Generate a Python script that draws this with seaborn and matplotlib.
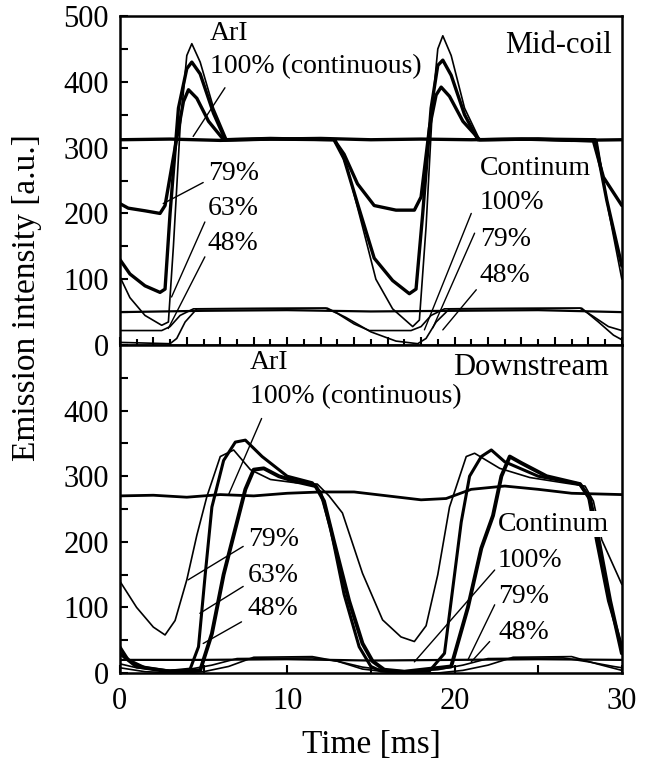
import numpy as np
import pandas as pd
import matplotlib
matplotlib.use('Agg')
import matplotlib.pyplot as plt
import seaborn as sns
from matplotlib.ticker import MultipleLocator, FixedLocator, NullFormatter

# ---------------- data ----------------
# Mid-coil panel
mid_t_ar100 = [0, 3, 6, 9, 12, 15, 18, 21, 24, 27, 30]
mid_ar100 = [312, 313, 311, 313, 314, 312, 313, 312, 313, 311, 312]

mid_t_ar79 = [0, 0.5, 1.5, 2.4, 2.7, 3.3, 3.8, 4.1, 4.6, 5.3, 6.2, 9, 12.8, 13.4, 14.2, 15.2,
              16.5, 17.6, 18.0, 18.5, 18.9, 19.2, 19.7, 20.5, 21.5, 25, 28.3, 28.9, 30]
mid_ar79 = [215, 208, 204, 200, 212, 300, 370, 388, 375, 340, 312, 314, 312, 290, 245, 212,
            205, 205, 225, 330, 380, 392, 378, 340, 312, 313, 310, 255, 212]

mid_t_ar63 = [0, 0.6, 1.5, 2.4, 2.7, 3.0, 3.5, 4.0, 4.3, 4.8, 5.6, 6.3, 9, 12.8, 13.4, 14.2,
              15.2, 16.3, 17.3, 17.7, 18.1, 18.6, 19.0, 19.3, 19.8, 20.6, 21.4, 25, 28.4, 29.1, 30]
mid_ar63 = [130, 108, 90, 80, 85, 200, 360, 420, 430, 412, 352, 312, 313, 312, 283, 215,
            132, 98, 78, 85, 200, 360, 425, 433, 410, 350, 312, 313, 312, 220, 120]

mid_t_ar48 = [0, 0.6, 1.5, 2.5, 2.9, 3.2, 3.6, 4.0, 4.3, 4.8, 5.6, 6.4, 9, 12.9, 13.6, 14.5,
              15.3, 16.3, 17.5, 17.9, 18.3, 18.7, 19.0, 19.3, 19.8, 20.6, 21.5, 25, 28.5, 29.2, 30]
mid_ar48 = [104, 72, 45, 30, 35, 150, 330, 440, 458, 430, 360, 312, 313, 312, 268, 180,
            100, 55, 28, 38, 180, 370, 450, 470, 440, 360, 312, 313, 312, 205, 100]

mid_t_c100 = [0, 5, 10, 15, 20, 25, 30]
mid_c100 = [50, 52, 53, 51, 52, 53, 50]

mid_t_c79 = [0, 2.5, 3.0, 3.6, 4.4, 12.3, 13.0, 14.0, 14.9, 17.4, 18.0, 18.6, 19.4, 27.5, 28.2, 29.2, 30]
mid_c79 = [22, 22, 28, 45, 55, 56, 48, 32, 22, 22, 28, 45, 55, 56, 45, 28, 22]

mid_t_c48 = [0, 3.0, 3.4, 3.9, 4.6, 12.4, 13.5, 15.0, 16.5, 17.8, 18.3, 18.9, 19.7, 27.6, 28.6, 29.5, 30]
mid_c48 = [4, 2, 10, 35, 55, 56, 42, 20, 6, 2, 10, 35, 55, 56, 35, 15, 8]

# Downstream panel
ds_t_ar100 = [0, 2, 4, 6, 8, 10, 12, 14, 16, 18, 19.5, 21, 23, 25, 27, 30]
ds_ar100 = [270, 271, 268, 272, 270, 274, 276, 276, 270, 264, 266, 280, 285, 280, 274, 272]

ds_t_ar79 = [0, 1.0, 2.0, 2.7, 3.3, 4.0, 4.6, 5.2, 6.0, 6.8, 7.8, 9.0, 10.5, 11.8, 12.5, 13.3,
             14.5, 15.7, 16.8, 17.6, 18.3, 19.0, 19.7, 20.7, 21.2, 22.7, 24.5, 26.5, 27.8, 28.3, 28.8, 30]
ds_ar79 = [140, 100, 70, 58, 80, 142, 210, 269, 330, 340, 310, 295, 290, 288, 270, 244,
           152, 81, 55, 48, 72, 150, 253, 330, 335, 312, 298, 290, 285, 262, 203, 135]

ds_t_ar63 = [0, 0.5, 1.5, 3.0, 4.2, 4.7, 5.1, 5.5, 6.2, 6.9, 7.5, 8.5, 10, 11.5, 12.0, 12.6, 13.4,
             14.3, 15.0, 15.6, 16.5, 18.5, 19.4, 19.9, 20.4, 20.9, 21.6, 22.2, 23, 25, 27.5, 28.0,
             28.5, 29.2, 30]
ds_ar63 = [40, 20, 8, 3, 6, 40, 150, 253, 324, 352, 355, 330, 300, 290, 275, 220, 120,
           40, 10, 3, 2, 3, 30, 130, 230, 300, 330, 340, 322, 300, 288, 270,
           200, 110, 40]

ds_t_ar48 = [0, 1, 3, 4.8, 5.5, 6.2, 6.9, 7.5, 8.0, 8.6, 9.5, 10.5, 11.7, 12.2, 12.8, 13.7, 14.5,
             15.1, 15.8, 17, 19.8, 20.8, 21.6, 22.3, 22.8, 23.3, 24, 25.5, 27.5, 28.1, 28.6, 29.3, 30]
ds_ar48 = [30, 10, 2, 4, 60, 150, 220, 280, 310, 312, 300, 292, 285, 262, 200, 110, 45,
           18, 5, 2, 10, 100, 190, 240, 300, 330, 320, 300, 288, 265, 205, 110, 30]

ds_t_c100 = [0, 5, 10, 15, 20, 25, 30]
ds_c100 = [20, 20, 21, 19, 20, 21, 20]

ds_t_c79 = [0, 1.0, 2.5, 4.0, 5.5, 7.0, 11.5, 13.0, 14.5, 16.0, 17.5, 19.0, 20.5, 22.0, 26.5, 28.0, 29.5, 30]
ds_c79 = [14, 8, 4, 5, 12, 22, 23, 18, 9, 4, 3, 5, 12, 22, 23, 17, 10, 8]

ds_t_c48 = [0, 1.5, 3.5, 5.0, 6.5, 8.0, 11.5, 13.0, 14.5, 16.5, 19.0, 20.5, 22.0, 23.5, 27.0, 28.5, 30]
ds_c48 = [8, 2, 0, 2, 10, 24, 25, 18, 6, 0, 0, 4, 12, 24, 25, 14, 4]

panel_titles = ["Mid-coil", "Downstream"]
x_ticks = [0, 10, 20, 30]
y_ticks_top = [0, 100, 200, 300, 400, 500]
y_ticks_bottom = [0, 100, 200, 300, 400]

# ---------------- style ----------------
sns.set_theme(style='ticks')
plt.rcParams['font.family'] = ['Liberation Serif', 'DejaVu Serif']
plt.rcParams['axes.linewidth'] = 1.8
plt.rcParams['text.color'] = 'black'
plt.rcParams['axes.labelcolor'] = 'black'
plt.rcParams['xtick.color'] = 'black'
plt.rcParams['ytick.color'] = 'black'

fig = plt.figure(figsize=(6.55, 7.71), dpi=100)
ax_top = fig.add_axes([0.183, 0.5525, 0.7664, 0.4267])
ax_bot = fig.add_axes([0.183, 0.1271, 0.7664, 0.4254])


def trace(ax, t, v, lw):
    df = pd.DataFrame({'t': t, 'v': v})
    sns.lineplot(data=df, x='t', y='v', ax=ax, color='black', linewidth=lw,
                 sort=False, estimator=None, legend=False)


# mid-coil
trace(ax_top, mid_t_ar100, mid_ar100, 2.4)
trace(ax_top, mid_t_ar79, mid_ar79, 2.4)
trace(ax_top, mid_t_ar63, mid_ar63, 2.4)
trace(ax_top, mid_t_ar48, mid_ar48, 1.2)
trace(ax_top, mid_t_c100, mid_c100, 1.6)
trace(ax_top, mid_t_c79, mid_c79, 1.2)
trace(ax_top, mid_t_c48, mid_c48, 1.2)

# downstream
trace(ax_bot, ds_t_ar100, ds_ar100, 2.0)
trace(ax_bot, ds_t_ar79, ds_ar79, 1.2)
trace(ax_bot, ds_t_ar63, ds_ar63, 2.2)
trace(ax_bot, ds_t_ar48, ds_ar48, 2.8)
trace(ax_bot, ds_t_c100, ds_c100, 1.6)
trace(ax_bot, ds_t_c79, ds_c79, 1.2)
trace(ax_bot, ds_t_c48, ds_c48, 1.2)

FS = 20
TFS = 22
for ax in (ax_top, ax_bot):
    ax.set_xlim(0, 30)
    ax.set_ylim(0, 500)
    ax.set_xlabel('')
    ax.set_ylabel('')
    for s in ax.spines.values():
        s.set_visible(True)
        s.set_linewidth(1.8)
        s.set_color('black')
    ax.tick_params(which='both', direction='in', length=6, width=1.5, colors='black',
                   labelsize=TFS, labelcolor='black', top=False, right=False)
    ax.tick_params(axis='y', pad=8)
    ax.tick_params(axis='x', pad=10)
    ax.set_facecolor('white')

ax_top.xaxis.set_major_locator(MultipleLocator(2))
ax_top.xaxis.set_minor_locator(MultipleLocator(1))
ax_top.xaxis.set_major_formatter(NullFormatter())
ax_top.tick_params(axis='x', which='minor', length=4)
ax_top.yaxis.set_major_locator(FixedLocator(y_ticks_top))
ax_top.yaxis.set_minor_locator(MultipleLocator(50))

ax_bot.xaxis.set_major_locator(FixedLocator(x_ticks))
ax_bot.xaxis.set_minor_locator(MultipleLocator(5))
ax_bot.set_xticklabels([str(x) for x in x_ticks])
ax_bot.yaxis.set_major_locator(FixedLocator(y_ticks_bottom))
ax_bot.set_yticklabels([str(y) for y in y_ticks_bottom])
ax_bot.yaxis.set_minor_locator(MultipleLocator(50))

# ---------------- annotations ----------------
top_labels = [(5.4, 473, "ArI"), (5.4, 423, "100% (continuous)"),
              (5.26, 261, "79%"), (5.26, 208, "63%"), (5.26, 155, "48%")]
top_pointers = [((6.28, 391), (4.38, 317)), ((4.98, 247), (2.59, 215)),
                ((5.08, 187), (3.09, 73)), ((5.08, 134), (2.89, 25))]
top_cont = [(21.5, 269, "Continum"), (21.5, 217, "100%"), (21.5, 161, "79%"), (21.5, 106, "48%")]
top_cont_ptr = [((21.0, 200), (18.2, 23)), ((21.2, 170), (18.7, 26)), ((21.3, 84), (19.3, 23))]

bot_labels = [(7.77, 473, "ArI"), (7.77, 421, "100% (continuous)"),
              (7.65, 203, "79%"), (7.65, 149, "63%"), (7.65, 98, "48%")]
bot_pointers = [((8.47, 388), (6.48, 271)), ((7.37, 193), (4.08, 142)),
                ((7.37, 132), (4.78, 91)), ((7.27, 78), (4.98, 45))]
bot_cont = [(22.6, 227, "Continum"), (22.6, 172, "100%"), (22.6, 116, "79%"), (22.6, 62, "48%")]
bot_cont_ptr = [((22.4, 157), (17.6, 17)), ((22.4, 104), (20.8, 20)), ((22.1, 48), (21.0, 17))]


def put(ax, labels, pointers, box=False):
    for x, y, s in labels:
        kw = {}
        if box:
            kw['bbox'] = dict(facecolor='white', edgecolor='none', pad=0.5)
        ax.text(x, y, s, fontsize=FS, ha='left', va='center', color='black', zorder=5, **kw)
    for (x0, y0), (x1, y1) in pointers:
        ax.annotate('', xy=(x1, y1), xytext=(x0, y0),
                    arrowprops=dict(arrowstyle='-', lw=1.0, color='black',
                                    shrinkA=0, shrinkB=0), zorder=4)


put(ax_top, top_labels, top_pointers)
put(ax_top, top_cont[:1], [], box=True)
put(ax_top, top_cont[1:], top_cont_ptr)
put(ax_bot, bot_labels, bot_pointers)
put(ax_bot, bot_cont[:1], [], box=True)
put(ax_bot, bot_cont[1:], bot_cont_ptr)

ax_top.text(29.4, 455, panel_titles[0], fontsize=22, ha='right', va='center', color='black')
ax_bot.text(29.2, 465, panel_titles[1], fontsize=22, ha='right', va='center', color='black')

fig.text(27 / 655, 1 - 298 / 771, "Emission intensity [a.u.]", rotation=90,
         fontsize=24, ha='center', va='center', color='black')
fig.text(371 / 655, 1 - 745 / 771, "Time [ms]", fontsize=24, ha='center', va='center',
         color='black')

fig.savefig('out.png', dpi=100, facecolor='white')
